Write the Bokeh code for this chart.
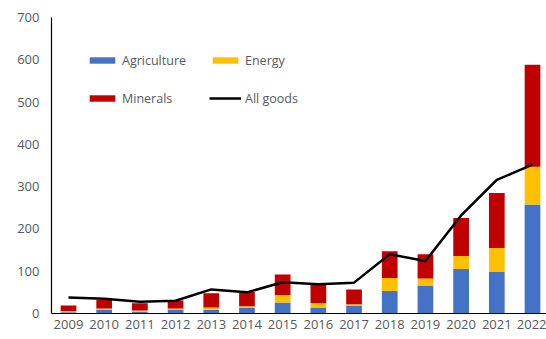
from bokeh.plotting import figure
from bokeh.models import Range1d, FixedTicker, Legend, LegendItem, ColumnDataSource
from bokeh.embed import file_html
from bokeh.resources import INLINE

years = [2009, 2010, 2011, 2012, 2013, 2014, 2015, 2016, 2017, 2018, 2019, 2020, 2021, 2022]
agriculture = [3, 9, 4, 8, 9, 13, 26, 14, 19, 53, 66, 105, 98, 258]
energy = [3, 3, 3, 4, 5, 4, 18, 11, 3, 31, 17, 31, 57, 89]
minerals = [13, 20, 17, 19, 34, 34, 48, 43, 35, 63, 57, 90, 130, 241]
all_goods = [38, 35, 28, 30, 57, 50, 74, 69, 73, 140, 124, 232, 316, 352]
y_ticks = [0, 100, 200, 300, 400, 500, 600, 700]

src = ColumnDataSource(dict(year=years, Agriculture=agriculture, Energy=energy,
                            Minerals=minerals, all_goods=all_goods))

FONT = "Open Sans"
GRAY = "#595959"

p = figure(width=546, height=339, output_backend="svg", toolbar_location=None,
           x_range=Range1d(2008.524, 2022.392), y_range=Range1d(0, 700),
           min_border_left=51, min_border_right=0, min_border_top=17, min_border_bottom=26)

bars = p.vbar_stack(["Agriculture", "Energy", "Minerals"], x="year", width=0.44, source=src,
                    color=["#4472C4", "#FFC000", "#C00000"], line_width=0)
line = p.line("year", "all_goods", source=src, line_color="black", line_width=2.5)

p.xgrid.visible = False
p.ygrid.visible = False
p.outline_line_color = None

for ax in (p.xaxis, p.yaxis):
    ax.axis_line_color = "black"
    ax.axis_line_width = 1.2
    ax.major_tick_line_color = None
    ax.minor_tick_line_color = None
    ax.major_tick_out = 0
    ax.major_tick_in = 0
    ax.major_label_text_font = FONT
    ax.major_label_text_font_size = "13px"
    ax.major_label_text_color = GRAY

p.xaxis.ticker = FixedTicker(ticks=years)
p.yaxis.ticker = FixedTicker(ticks=y_ticks)
p.yaxis.major_label_standoff = 12
p.xaxis.major_label_standoff = 6

legend = Legend(items=[
    LegendItem(label="Agriculture", renderers=[bars[0]]),
    LegendItem(label="Minerals", renderers=[bars[2]]),
    LegendItem(label="Energy", renderers=[bars[1]]),
    LegendItem(label="All goods", renderers=[line]),
], location=(35, 205), ncols=2)
legend.glyph_width = 32
legend.glyph_height = 8
legend.label_standoff = 4
legend.label_width = 69
legend.label_height = 20
legend.spacing = 18
legend.padding = 0
legend.margin = 0
legend.border_line_alpha = 0
legend.background_fill_alpha = 0
legend.label_text_font = FONT
legend.label_text_font_size = "12.5px"
legend.label_text_color = GRAY
p.add_layout(legend)

open("out.html", "w").write(file_html(p, INLINE))
